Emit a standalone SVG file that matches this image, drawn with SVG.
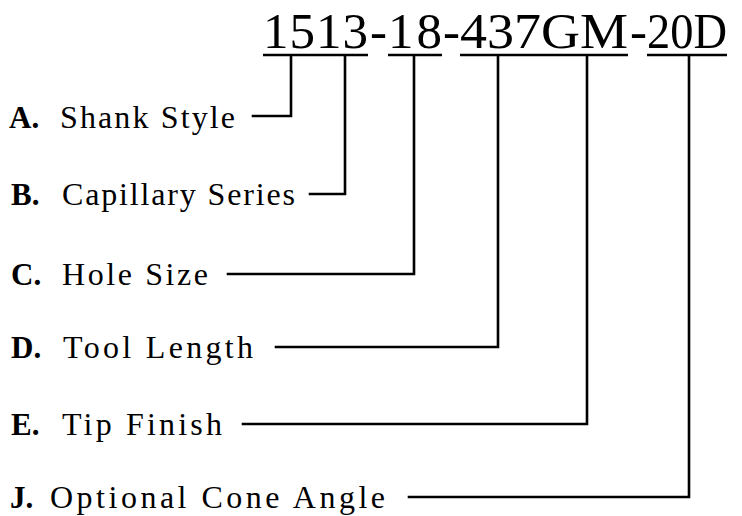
<svg xmlns="http://www.w3.org/2000/svg" width="742" height="516" viewBox="0 0 742 516">
<style>
.t{font-family:"Liberation Serif","Times New Roman",serif;fill:#000}
.code{font-size:51px}
.lt{font-size:31px;font-weight:bold}
.ds{font-size:32px}
.ul{stroke:#000;stroke-width:2.5;fill:none}
.cn{stroke:#000;stroke-width:2.6;fill:none;stroke-linejoin:miter;stroke-linecap:square}
</style>
<rect width="742" height="516" fill="#fff"/>
<g id="code">
<text class="t code" x="263" y="48" textLength="105" lengthAdjust="spacing">1513</text>
<text class="t code" x="370" y="48">-</text>
<text class="t code" x="388" y="48" textLength="54" lengthAdjust="spacing">18</text>
<text class="t code" x="443" y="48">-</text>
<text class="t code" x="460" y="48" textLength="168" lengthAdjust="spacingAndGlyphs">437GM</text>
<text class="t code" x="630" y="48">-</text>
<text class="t code" x="647" y="48" textLength="80" lengthAdjust="spacingAndGlyphs">20D</text>
<line class="ul" x1="263" y1="55" x2="368" y2="55"/>
<line class="ul" x1="388" y1="55" x2="442" y2="55"/>
<line class="ul" x1="460" y1="55" x2="628" y2="55"/>
<line class="ul" x1="647" y1="55" x2="727" y2="55"/>
</g>
<g id="nodeA">
<text class="t lt" x="9" y="128">A.</text>
<text class="t ds" x="60" y="128" textLength="175" lengthAdjust="spacing">Shank Style</text>
</g>
<g id="nodeB">
<text class="t lt" x="11" y="205">B.</text>
<text class="t ds" x="62" y="205" textLength="233" lengthAdjust="spacing">Capillary Series</text>
</g>
<g id="nodeC">
<text class="t lt" x="11" y="285">C.</text>
<text class="t ds" x="62" y="285" textLength="146" lengthAdjust="spacing">Hole Size</text>
</g>
<g id="nodeD">
<text class="t lt" x="11" y="358">D.</text>
<text class="t ds" x="63" y="358" textLength="190" lengthAdjust="spacing">Tool Length</text>
</g>
<g id="nodeE">
<text class="t lt" x="11" y="435">E.</text>
<text class="t ds" x="62" y="435" textLength="160" lengthAdjust="spacing">Tip Finish</text>
</g>
<g id="nodeJ">
<text class="t lt" x="10" y="508">J.</text>
<text class="t ds" x="50" y="508" textLength="335" lengthAdjust="spacing">Optional Cone Angle</text>
</g>
<g id="connectors">
<path class="cn" d="M253,116 H291 V57"/>
<path class="cn" d="M310,194 H345 V57"/>
<path class="cn" d="M228,274 H414 V57"/>
<path class="cn" d="M276,347 H498 V57"/>
<path class="cn" d="M243,424 H587 V57"/>
<path class="cn" d="M409,497 H689 V57"/>
</g>
</svg>
